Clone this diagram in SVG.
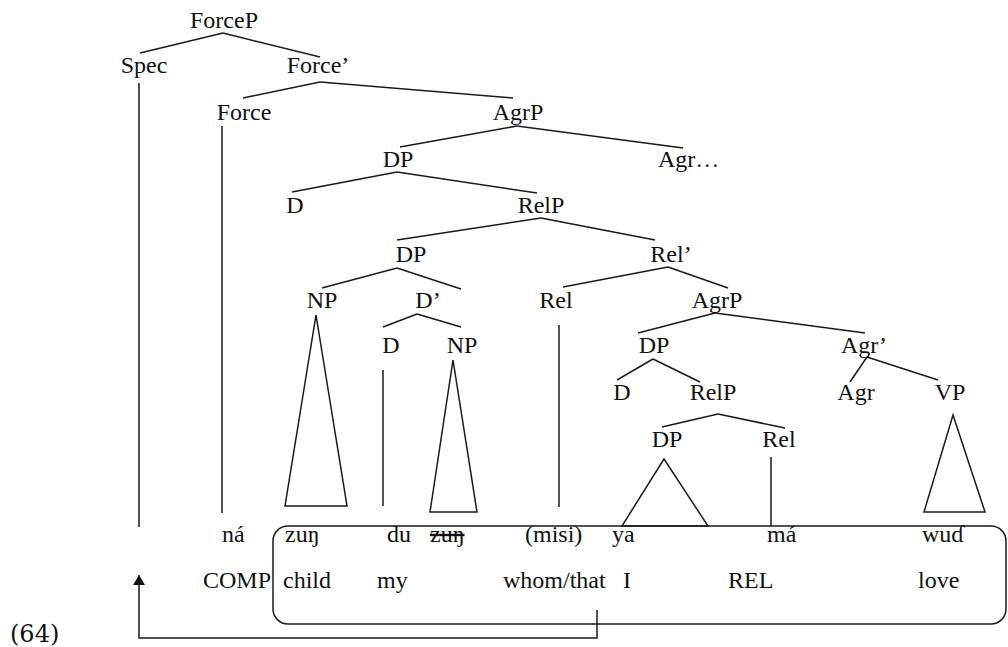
<svg xmlns="http://www.w3.org/2000/svg" width="1008" height="647" viewBox="0 0 1008 647" font-family="Liberation Serif, serif">
<style>
text{font-family:'Liberation Serif','Times New Roman',serif;font-size:24px;fill:#111}
.c{text-anchor:middle}
.e line,.e polyline,.e polygon,.e path,.e rect{stroke:#1a1a1a;stroke-width:1.5;fill:none}
text.ex{font-family:'DejaVu Serif',serif;font-size:24px}
</style>
<defs>
<marker id="ah" viewBox="0 0 10 12" refX="10" refY="6" markerWidth="10" markerHeight="12" markerUnits="userSpaceOnUse" orient="auto">
<path d="M0,0 L10,6 L0,12 Z" fill="#111" stroke="none"/>
</marker>
</defs>
<rect width="1008" height="647" fill="#fff"/>

<g id="connectors" class="e">
<line x1="223" y1="33" x2="140" y2="53"/><line x1="223" y1="33" x2="320" y2="57"/>
<line x1="320" y1="82" x2="243" y2="98"/><line x1="320" y1="82" x2="513" y2="98"/>
<line x1="517" y1="126" x2="400" y2="147"/><line x1="517" y1="126" x2="683" y2="148"/>
<line x1="397" y1="172" x2="292" y2="192"/><line x1="397" y1="172" x2="537" y2="193"/>
<line x1="541" y1="218" x2="397" y2="240"/><line x1="541" y1="218" x2="655" y2="240"/>
<line x1="397" y1="268" x2="322" y2="288"/><line x1="397" y1="268" x2="461" y2="289"/>
<line x1="668" y1="267" x2="563" y2="287"/><line x1="668" y1="267" x2="728" y2="288"/>
<line x1="417" y1="314" x2="383" y2="327"/><line x1="417" y1="314" x2="461" y2="327"/>
<line x1="715" y1="313" x2="638" y2="333"/><line x1="715" y1="313" x2="865" y2="333"/>
<line x1="653" y1="359" x2="617" y2="380"/><line x1="653" y1="359" x2="700" y2="382"/>
<line x1="867" y1="357" x2="850" y2="382"/><line x1="867" y1="357" x2="938" y2="380"/>
<line x1="718" y1="414" x2="662" y2="427"/><line x1="718" y1="414" x2="785" y2="428"/>
<polygon points="316,315 285,506 347,506"/>
<polygon points="453,360 430,512 477,512"/>
<polygon points="664,459 622,526 708,526"/>
<polygon points="953,415 924,512 985,512"/>
<line x1="139" y1="83" x2="139" y2="527"/>
<line x1="222" y1="126" x2="222" y2="513"/>
<line x1="383" y1="370" x2="383" y2="506"/>
<line x1="559" y1="325" x2="559" y2="507"/>
<line x1="771" y1="457" x2="771" y2="526"/>
<rect x="273" y="526" width="733" height="98" rx="15" ry="15"/>
<path d="M597,610 V638 H139 V575" marker-end="url(#ah)"/>
</g>

<g id="n-forcep"><text class="c" x="224" y="28">ForceP</text></g>
<g id="n-spec"><text class="c" x="144" y="73">Spec</text></g>
<g id="n-forcebar"><text class="c" x="318" y="73">Force’</text></g>
<g id="n-force"><text class="c" x="244" y="120">Force</text></g>
<g id="n-agrp1"><text class="c" x="518" y="120">AgrP</text></g>
<g id="n-dp1"><text class="c" x="398" y="167">DP</text></g>
<g id="n-agr1"><text x="658" y="167">Agr…</text></g>
<g id="n-d1"><text class="c" x="295" y="213">D</text></g>
<g id="n-relp1"><text class="c" x="541" y="213">RelP</text></g>
<g id="n-dp2"><text class="c" x="411" y="262">DP</text></g>
<g id="n-relbar"><text class="c" x="671" y="262">Rel’</text></g>
<g id="n-np1"><text class="c" x="322" y="308">NP</text></g>
<g id="n-dbar"><text class="c" x="428" y="308">D’</text></g>
<g id="n-rel1"><text class="c" x="556" y="308">Rel</text></g>
<g id="n-agrp2"><text class="c" x="717" y="308">AgrP</text></g>
<g id="n-d2"><text class="c" x="391" y="353">D</text></g>
<g id="n-np2"><text class="c" x="462" y="353">NP</text></g>
<g id="n-dp3"><text class="c" x="654" y="353">DP</text></g>
<g id="n-agrbar"><text class="c" x="864" y="353">Agr’</text></g>
<g id="n-d3"><text class="c" x="622" y="400">D</text></g>
<g id="n-relp2"><text class="c" x="713" y="400">RelP</text></g>
<g id="n-agr2"><text class="c" x="856" y="400">Agr</text></g>
<g id="n-vp"><text class="c" x="950" y="400">VP</text></g>
<g id="n-dp4"><text class="c" x="667" y="447">DP</text></g>
<g id="n-rel2"><text class="c" x="779" y="447">Rel</text></g>

<g id="words">
<text x="222" y="542">ná</text>
<text x="285" y="542">zuŋ</text>
<text x="387" y="542">du</text>
<text x="430" y="542" text-decoration="line-through">zuŋ</text>
<text x="525" y="542">(misi)</text>
<text x="612" y="542">ya</text>
<text x="767" y="542">má</text>
<text x="922" y="542">wuɗ</text>
</g>
<g id="gloss">
<text x="203" y="588">COMP</text>
<text x="283" y="588">child</text>
<text x="377" y="588">my</text>
<text x="503" y="588">whom/that</text>
<text x="623" y="588">I</text>
<text x="728" y="588">REL</text>
<text x="918" y="588">love</text>
</g>
<g id="label"><text class="ex" x="10" y="642">(64)</text></g>
</svg>
